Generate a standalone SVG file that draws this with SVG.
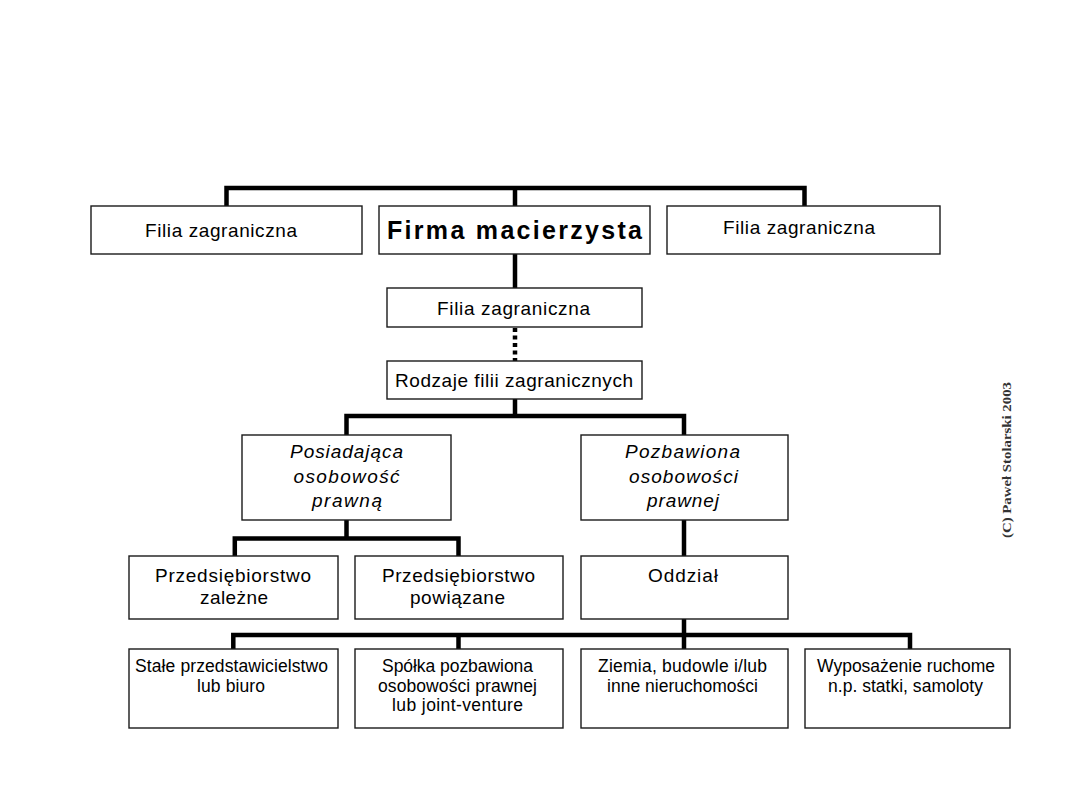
<svg xmlns="http://www.w3.org/2000/svg" width="1080" height="810" viewBox="0 0 1080 810">
<style>
.box{fill:#fff;stroke:#1a1a1a;stroke-width:1.4}
.t{font-family:"Liberation Sans",Arial,sans-serif;font-size:19px;fill:#000;text-anchor:middle}
.i{font-style:italic}
.b{font-weight:bold;font-size:25px}
.s{font-size:17.5px}
.ln{fill:none;stroke:#000;stroke-width:4.5;stroke-linecap:butt;stroke-linejoin:miter}
.dot{fill:none;stroke:#000;stroke-width:4.5;stroke-dasharray:4 3.5}
.cr{font-family:"Liberation Serif","Times New Roman",serif;font-size:13px;font-weight:bold;fill:#333}
</style>
<rect width="1080" height="810" fill="#fff"/>
<g id="connectors">
<path class="ln" d="M226.5,206 V188 H804.5 V206 M515,188 V206 M515,254 V288"/>
<path class="dot" d="M515,328 V361"/>
<path class="ln" d="M515,399 V416 M346.5,435 V416 H684 V435"/>
<path class="ln" d="M346.5,520 V538.5 M234.8,556 V538.5 H458.5 V556"/>
<path class="ln" d="M684,520 V556"/>
<path class="ln" d="M684,619 V635 M233.3,649 V635 H910 V649 M458.5,635 V649 M684,635 V649"/>
</g>
<g id="filia-left"><rect class="box" x="91" y="206" width="271" height="48"/><text class="t" x="221" y="237" textLength="152" lengthAdjust="spacing">Filia zagraniczna</text></g>
<g id="firma"><rect class="box" x="379" y="206" width="271" height="48"/><text class="t b" x="514.5" y="239" textLength="255" lengthAdjust="spacing">Firma macierzysta</text></g>
<g id="filia-right"><rect class="box" x="667" y="206" width="273" height="48"/><text class="t" x="799" y="234" textLength="152" lengthAdjust="spacing">Filia zagraniczna</text></g>
<g id="filia-mid"><rect class="box" x="387" y="288" width="255" height="39"/><text class="t" x="513.5" y="315" textLength="153" lengthAdjust="spacing">Filia zagraniczna</text></g>
<g id="rodzaje"><rect class="box" x="387" y="361" width="255" height="38"/><text class="t" x="514" y="387" textLength="238" lengthAdjust="spacing">Rodzaje filii zagranicznych</text></g>
<g id="posiadajaca"><rect class="box" x="242" y="435" width="209" height="85"/>
<text class="t i" x="346.5" y="458" textLength="113" lengthAdjust="spacing">Posiadająca</text>
<text class="t i" x="346.5" y="483" textLength="106" lengthAdjust="spacing">osobowość</text>
<text class="t i" x="347" y="507" textLength="70" lengthAdjust="spacing">prawną</text></g>
<g id="pozbawiona"><rect class="box" x="581" y="435" width="207" height="85"/>
<text class="t i" x="682.5" y="458" textLength="115" lengthAdjust="spacing">Pozbawiona</text>
<text class="t i" x="683.5" y="483" textLength="109" lengthAdjust="spacing">osobowości</text>
<text class="t i" x="683" y="507" textLength="72" lengthAdjust="spacing">prawnej</text></g>
<g id="zalezne"><rect class="box" x="129" y="556" width="209" height="63"/>
<text class="t" x="233" y="582" textLength="156" lengthAdjust="spacing">Przedsiębiorstwo</text>
<text class="t" x="234" y="604" textLength="68" lengthAdjust="spacing">zależne</text></g>
<g id="powiazane"><rect class="box" x="355" y="556" width="208" height="63"/>
<text class="t" x="458.5" y="582" textLength="153" lengthAdjust="spacing">Przedsiębiorstwo</text>
<text class="t" x="457.5" y="604" textLength="95" lengthAdjust="spacing">powiązane</text></g>
<g id="oddzial"><rect class="box" x="581" y="556" width="207" height="63"/>
<text class="t" x="683" y="582" textLength="70" lengthAdjust="spacing">Oddział</text></g>
<g id="stale"><rect class="box" x="129" y="649" width="209" height="79"/>
<text class="t s" x="231.5" y="672" textLength="193" lengthAdjust="spacing">Stałe przedstawicielstwo</text>
<text class="t s" x="231" y="692" textLength="68" lengthAdjust="spacing">lub biuro</text></g>
<g id="spolka"><rect class="box" x="355" y="649" width="208" height="79"/>
<text class="t s" x="457.5" y="672" textLength="151" lengthAdjust="spacing">Spółka pozbawiona</text>
<text class="t s" x="457.5" y="692" textLength="159" lengthAdjust="spacing">osobowości prawnej</text>
<text class="t s" x="457.5" y="711" textLength="131" lengthAdjust="spacing">lub joint-venture</text></g>
<g id="ziemia"><rect class="box" x="581" y="649" width="207" height="79"/>
<text class="t s" x="682.5" y="672" textLength="169" lengthAdjust="spacing">Ziemia, budowle i/lub</text>
<text class="t s" x="682.5" y="692" textLength="151" lengthAdjust="spacing">inne nieruchomości</text></g>
<g id="wyposazenie"><rect class="box" x="805" y="649" width="205" height="79"/>
<text class="t s" x="906" y="672" textLength="178" lengthAdjust="spacing">Wyposażenie ruchome</text>
<text class="t s" x="905.5" y="692" textLength="155" lengthAdjust="spacing">n.p. statki, samoloty</text></g>
<g id="copyright"><text class="cr" transform="translate(1011,538) rotate(-90)" textLength="156" lengthAdjust="spacingAndGlyphs">(C) Paweł Stolarski 2003</text></g>
</svg>
